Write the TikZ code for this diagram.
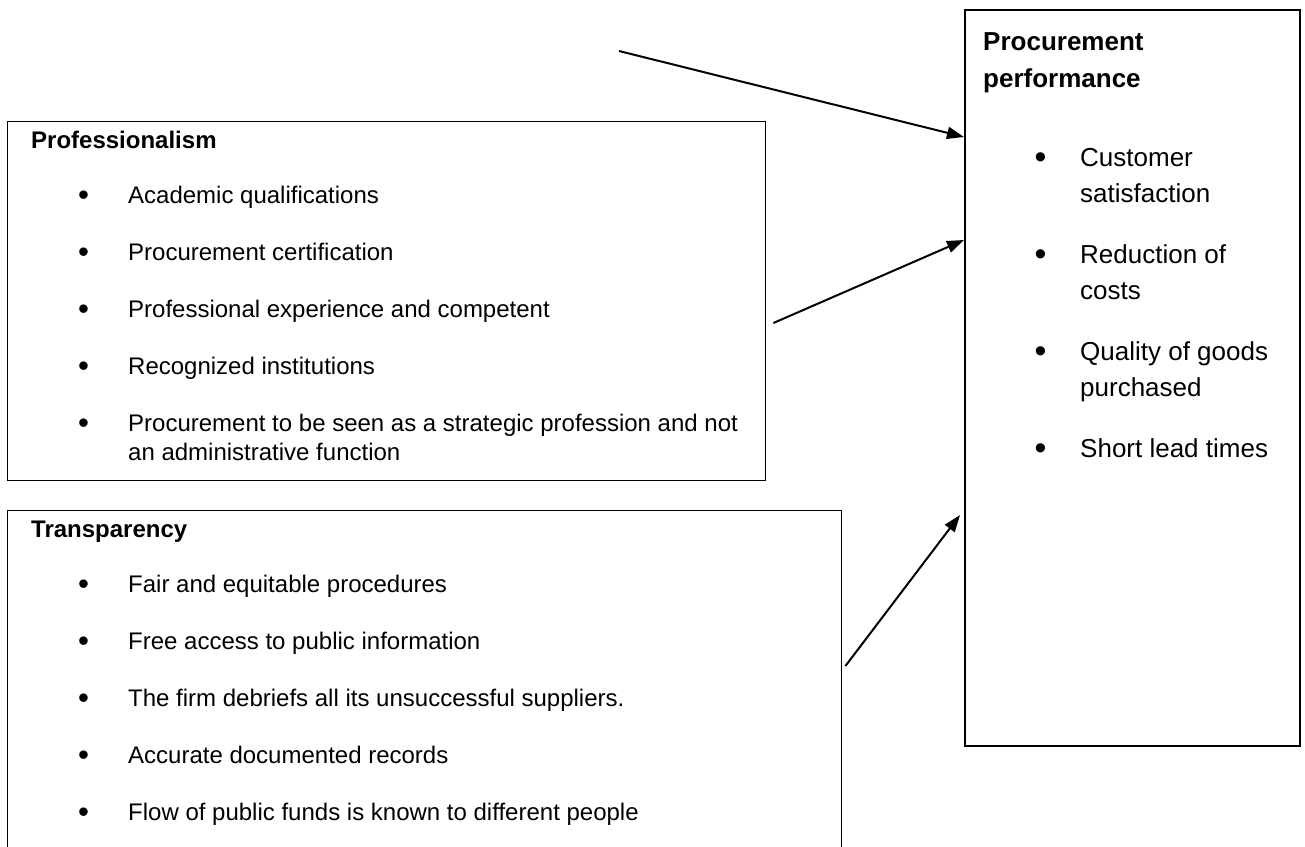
\documentclass[tikz,border=0pt]{standalone}
\usepackage{fontspec}
\setmainfont{Liberation Sans}
\usetikzlibrary{arrows.meta}
\newcommand{\bigdot}{\raisebox{-0.09em}{\scalebox{1.3}{\textbullet}}}
\newcommand{\lbul}{\makebox[49pt][l]{\hspace{-1pt}\bigdot}}
\newcommand{\rbul}{\makebox[44.5pt][l]{\hspace{-1pt}\bigdot}}
\begin{document}
\begin{tikzpicture}[x=1pt,y=-1pt,
  box/.style={draw, line width=1.4pt, rectangle, anchor=north west, inner sep=0pt},
  lhead/.style={anchor=base west, inner sep=0pt, font=\bfseries\fontsize{24}{28}\selectfont},
  litem/.style={anchor=base west, inner sep=0pt, font=\fontsize{24}{28}\selectfont},
  rhead/.style={anchor=base west, inner sep=0pt, font=\bfseries\fontsize{26}{30}\selectfont},
  ritem/.style={anchor=base west, inner sep=0pt, font=\fontsize{26}{30}\selectfont},
  conn/.style={line width=2pt, -{Triangle[length=17pt,width=12pt]}}]
\useasboundingbox (0,0) rectangle (1305,846);

% outcome box
\node[box, line width=2pt, minimum width=335pt, minimum height=736pt] (perf) at (964,9) {};
\node[rhead] (ph1) at (983,50) {Procurement};
\node[rhead] (ph2) at (983,87) {performance};
\node[ritem] (pi1) at (1035.5,166) {\rbul Customer};
\node[ritem] (pi1b) at (1080,202) {satisfaction};
\node[ritem] (pi2) at (1035.5,263) {\rbul Reduction of};
\node[ritem] (pi2b) at (1080,299) {costs};
\node[ritem] (pi3) at (1035.5,360) {\rbul Quality of goods};
\node[ritem] (pi3b) at (1080,396) {purchased};
\node[ritem] (pi4) at (1035.5,457) {\rbul Short lead times};

% professionalism box
\node[box, minimum width=758pt, minimum height=359pt] (prof) at (7,121) {};
\node[lhead] (fh) at (31,148) {Professionalism};
\node[litem] (fi1) at (79,203) {\lbul Academic qualifications};
\node[litem] (fi2) at (79,260) {\lbul Procurement certification};
\node[litem] (fi3) at (79,317) {\lbul Professional experience and competent};
\node[litem] (fi4) at (79,374) {\lbul Recognized institutions};
\node[litem] (fi5) at (79,431) {\lbul Procurement to be seen as a strategic profession and not};
\node[litem] (fi5b) at (128,460) {an administrative function};

% transparency box (runs past the lower edge)
\node[box, minimum width=834pt, minimum height=360pt] (trans) at (7,510) {};
\node[lhead] (th) at (31,537) {Transparency};
\node[litem] (ti1) at (79,592) {\lbul Fair and equitable procedures};
\node[litem] (ti2) at (79,649) {\lbul Free access to public information};
\node[litem] (ti3) at (79,706) {\lbul The firm debriefs all its unsuccessful suppliers.};
\node[litem] (ti4) at (79,763) {\lbul Accurate documented records};
\node[litem] (ti5) at (79,820) {\lbul Flow of public funds is known to different people};

% connectors
\coordinate (src) at (619,51);
\draw[conn] (src) -- ([yshift=-128pt]perf.north west);
\draw[conn] ([xshift=7pt,yshift=-202pt]prof.north east) -- ([yshift=-231pt]perf.north west);
\draw[conn] ([xshift=3pt,yshift=-156pt]trans.north east) -- ([xshift=-4pt,yshift=-506pt]perf.north west);
\end{tikzpicture}
\end{document}
